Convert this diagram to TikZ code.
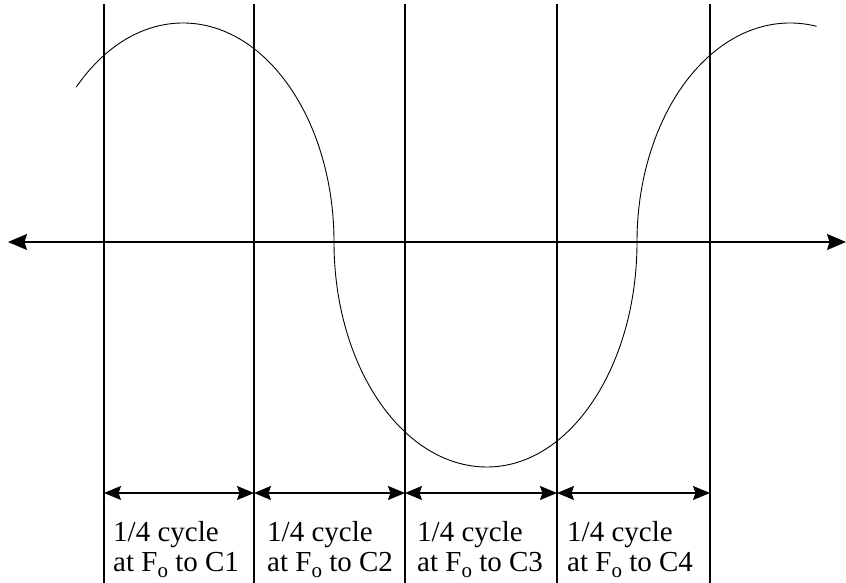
\documentclass[tikz,border=0pt]{standalone}
\usepackage{fontspec}
\setmainfont{Liberation Serif}
\usetikzlibrary{arrows.meta}
\tikzset{
  vline/.style={line width=1.2pt},
  axisline/.style={line width=1.2pt,{Stealth[length=19pt,width=16pt,inset=2.5pt]}-{Stealth[length=19pt,width=16pt,inset=2.5pt]}},
  spanarrow/.style={line width=1.2pt,{Stealth[length=17pt,width=14pt,inset=2.5pt]}-{Stealth[length=17pt,width=14pt,inset=2.5pt]}},
  wave/.style={line width=0.9pt},
  lbl/.style={anchor=north west,align=left,inner sep=0pt,font=\fontsize{29}{30}\selectfont},
}
\newcommand{\Fo}{F\raisebox{-0.22em}{\fontsize{21}{21}\selectfont o}}
\begin{document}
\begin{tikzpicture}[x=1pt,y=1pt]
\useasboundingbox (0,0) rectangle (846,583);
% vertical lines
\foreach \i/\x in {1/104,2/254,3/405,4/557,5/710}{
  \coordinate (t\i) at (\x,579);
  \coordinate (b\i) at (\x,0);
  \coordinate (a\i) at (\x,90);
  \draw[vline] (t\i) -- (b\i);
}
% axis
\coordinate (axl) at (8,341);
\coordinate (axr) at (846,341);
\draw[axisline] (axl) -- (axr);
% span arrows
\draw[spanarrow] (a1) -- (a2);
\draw[spanarrow] (a2) -- (a3);
\draw[spanarrow] (a3) -- (a4);
\draw[spanarrow] (a4) -- (a5);
% wave
\coordinate (ws) at ({183+151*cos(135)},{341+219*sin(135)});
\draw[wave] (ws) arc[start angle=135,end angle=0,x radius=151pt,y radius=219pt]
  arc[start angle=180,end angle=270,x radius=153pt,y radius=225pt]
  arc[start angle=270,end angle=360,x radius=150pt,y radius=225pt]
  arc[start angle=180,end angle=80,x radius=153pt,y radius=219pt];
% labels
\node[lbl] (l1) at (113,62) {1/4 cycle\\at \Fo{} to C1};
\node[lbl] (l2) at (267,62) {1/4 cycle\\at \Fo{} to C2};
\node[lbl] (l3) at (417,62) {1/4 cycle\\at \Fo{} to C3};
\node[lbl] (l4) at (567,62) {1/4 cycle\\at \Fo{} to C4};
\end{tikzpicture}
\end{document}
